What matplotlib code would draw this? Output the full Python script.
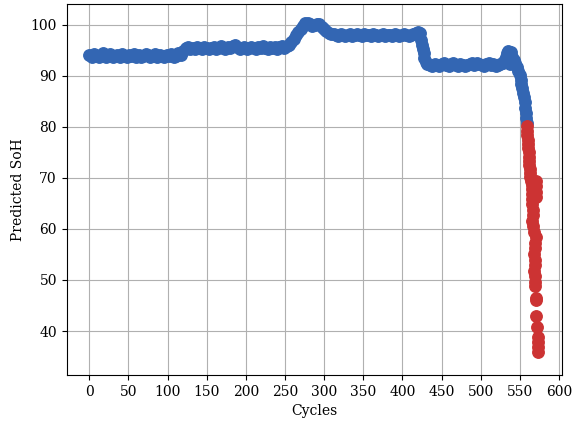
import matplotlib
matplotlib.use("Agg")
import matplotlib.pyplot as plt
import numpy as np

plt.rcParams['font.family'] = ['DejaVu Serif']

# ---- blue (SoH >= 80) ----
seg1_cycles = list(range(0, 118, 3))
seg1_soh = [94.1, 93.8, 94.3, 94.0, 93.7, 94.2, 94.4, 93.8, 94.0, 94.3,
            93.7, 94.0, 94.2, 93.8, 94.3, 94.0, 93.7, 94.2, 94.0, 94.3,
            93.8, 94.2, 93.7, 94.0, 94.3, 94.1, 93.8, 94.0, 94.3, 93.8,
            94.2, 94.0, 93.7, 94.2, 94.0, 94.3, 93.8, 94.0, 94.4, 94.1]

seg2_cycles = [120, 123] + list(range(126, 253, 3))
seg2_soh = [94.8, 95.4,
            95.7, 95.3, 95.5, 95.2, 95.7, 95.5, 95.3, 95.7, 95.5, 95.2,
            95.5, 95.7, 95.3, 95.5, 95.8, 95.5, 95.3, 95.7, 95.5, 95.8,
            96.0, 95.6, 95.2, 95.5, 95.7, 95.3, 95.5, 95.7, 95.5, 95.3,
            95.7, 95.5, 95.8, 95.5, 95.3, 95.7, 95.5, 95.7, 95.3, 95.6,
            95.8, 95.5, 95.9]

seg3_cycles = list(range(255, 310, 3))
seg3_soh = [96.0, 96.6, 97.3, 98.0, 98.6, 99.2, 99.8, 100.3, 100.4, 100.2,
            99.8, 99.9, 100.2, 100.1, 99.6, 99.2, 98.8, 98.5, 98.3]

seg4_cycles = list(range(312, 418, 3))
seg4_soh = [98.3, 98.1, 97.9, 98.3, 98.1, 97.9, 98.1, 98.3, 97.9, 98.1,
            98.3, 98.1, 97.9, 98.3, 98.1, 98.1, 97.9, 98.3, 98.1, 97.9,
            98.1, 98.3, 97.9, 98.1, 98.1, 97.9, 98.3, 98.1, 97.9, 98.1,
            98.3, 98.1, 97.9, 98.1, 98.3, 98.5]

seg5_cycles = [420, 422, 424, 425, 426, 427, 428, 430]
seg5_soh = [98.6, 98.4, 97.0, 96.0, 95.3, 94.5, 93.5, 92.7]

seg6_cycles = list(range(432, 529, 3))
seg6_soh = [92.4, 92.1, 92.0, 92.3, 92.2, 91.9, 92.3, 92.5, 92.2, 92.0,
            92.3, 92.6, 92.2, 92.0, 92.3, 92.2, 91.9, 92.2, 92.3, 92.5,
            92.2, 92.6, 92.3, 92.2, 92.0, 92.3, 92.5, 92.2, 92.3, 92.0,
            92.2, 92.4, 92.6]

seg7_cycles = [530, 532, 533, 535, 536, 537, 538, 539, 540, 541, 542,
               544, 546, 548, 550, 551, 552, 553, 554, 555, 556, 557,
               557.5, 558, 558.5]
seg7_soh = [93.0, 93.8, 94.5, 94.8, 94.2, 93.2, 92.3, 94.6, 93.8, 92.8, 93.2,
            92.5, 91.8, 91.0, 90.2, 89.3, 88.5, 87.6, 86.7, 85.8, 84.8, 83.8,
            82.8, 81.8, 80.8]

blue_cycles = seg1_cycles + seg2_cycles + seg3_cycles + seg4_cycles + seg5_cycles + seg6_cycles + seg7_cycles
blue_soh = seg1_soh + seg2_soh + seg3_soh + seg4_soh + seg5_soh + seg6_soh + seg7_soh

# ---- red (SoH < 80) ----
red_cycles = [559, 559, 559.5, 560, 560, 560.5, 561, 561.5, 562, 562, 562.5,
              563, 563.5, 564, 565, 570, 571, 570.5, 565, 565.5, 566, 571,
              566, 566.5, 567, 566, 567, 568, 570, 569, 569, 568.5, 569, 569,
              568.5, 569, 569.5, 569, 570, 571, 570.5, 572, 573, 573, 572.5, 573]
red_soh = [80.2, 79.3, 78.4, 77.5, 76.6, 75.8, 75.0, 74.2, 73.4, 72.6, 71.8,
           71.0, 70.2, 69.4, 68.6, 69.5, 68.5, 67.3, 67.8, 66.8, 65.8, 66.3,
           64.8, 63.8, 62.8, 61.5, 60.6, 59.5, 58.4, 57.3, 56.2, 55.1, 54.0, 52.9,
           51.8, 50.8, 49.7, 48.8, 46.5, 46.0, 43.0, 40.8, 38.8, 37.8, 36.8, 35.9]

fig = plt.figure(figsize=(5.82, 4.26), dpi=100)
ax = fig.add_axes([0.1146, 0.12, 0.851, 0.8706])
ax.scatter(blue_cycles, blue_soh, s=68, color='#3366b3', zorder=3)
ax.scatter(red_cycles, red_soh, s=68, color='#cc3333', zorder=3)

ax.set_xlim(-28.75, 603.75)
ax.set_ylim(31.4, 104.1)
ax.set_xticks(range(0, 601, 50))
ax.set_yticks(range(40, 101, 10))
ax.grid(True, color='#b0b0b0', linewidth=0.8)
ax.set_axisbelow(True)
ax.set_xlabel('Cycles')
ax.set_ylabel('Predicted SoH')

fig.savefig('out.png', dpi=100)
